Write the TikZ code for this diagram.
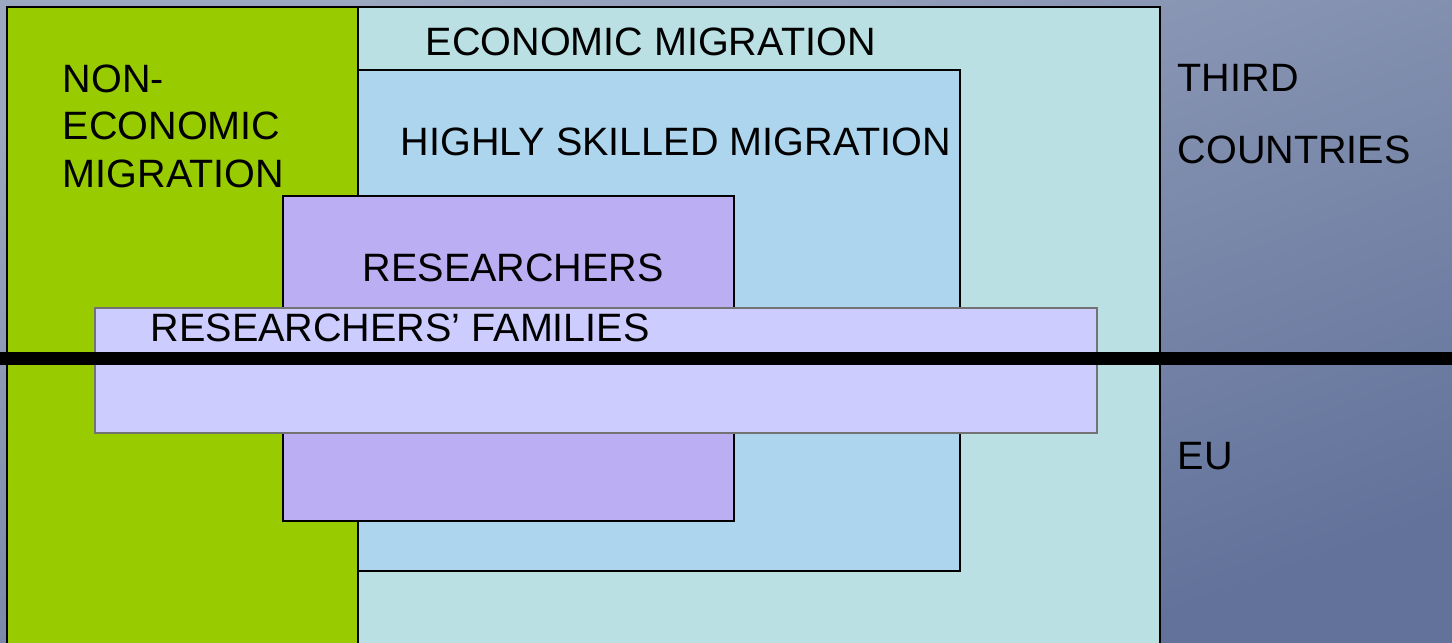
\documentclass[tikz,border=0pt]{standalone}
\usepackage{fontspec}
\setmainfont{Liberation Sans}
\usetikzlibrary{positioning}
\definecolor{nongreen}{HTML}{99CC00}
\definecolor{econcyan}{HTML}{BAE0E3}
\definecolor{skillblue}{HTML}{ADD5EE}
\definecolor{resviolet}{HTML}{BCAEF2}
\definecolor{famlilac}{HTML}{CCCCFF}
\definecolor{bgtop}{HTML}{9CA7C0}
\definecolor{bgbot}{HTML}{62729A}
\tikzset{
    boxn/.style = {draw=black, line width=0.6pt, fill=nongreen},
    boxe/.style = {draw=black, line width=0.6pt, fill=econcyan},
    boxh/.style = {draw=black, line width=0.6pt, fill=skillblue},
    boxr/.style = {draw=black, line width=0.6pt, fill=resviolet},
    boxf/.style = {draw=black!55, line width=0.6pt, fill=famlilac},
    border/.style = {line width=0.13cm, black}, % third countries / EU
    mytext/.style = {anchor=base west, inner sep=0pt, align=left, text=black,
                     font=\fontsize{11.25}{13.5}\selectfont},
    mytextw/.style = {mytext, font=\fontsize{11.25}{20.2}\selectfont}
}
\begin{document}
\begin{tikzpicture}[x=0.01cm, y=-0.01cm]
\useasboundingbox (0,0) rectangle (1452,642);
\clip (0,0) rectangle (1452,642);
\shade[top color=bgtop, bottom color=bgbot, shading angle=20] (0,0) rectangle (1452,642);
%
\draw[boxn] (7,7) rectangle (358,660);
\draw[boxe] (358,7) rectangle (1160,660);
\draw[boxh] (358,70) rectangle (960,571);
\draw[boxr] (283,196) rectangle (734,521);
\draw[boxf] (95,308) rectangle (1097,433);
\draw[border] (0,358.5) -- (1452,358.5);
%
% base of a multi-line node = its last line
\node[mytext] at (62,187) (noneco) {NON-\\ECONOMIC\\MIGRATION};
\node[mytext] at (425,55) (eco) {ECONOMIC MIGRATION};
\node[mytext] at (400,155) (skill) {HIGHLY SKILLED MIGRATION};
\node[mytext] at (362,281) (res) {RESEARCHERS};
\node[mytext] at (150,341) (fam) {RESEARCHERS’ FAMILIES};
\node[mytextw] at (1177,163) (third) {THIRD\\COUNTRIES};
\node[mytext] at (1177,469) (eu) {EU};
\end{tikzpicture}
\end{document}
